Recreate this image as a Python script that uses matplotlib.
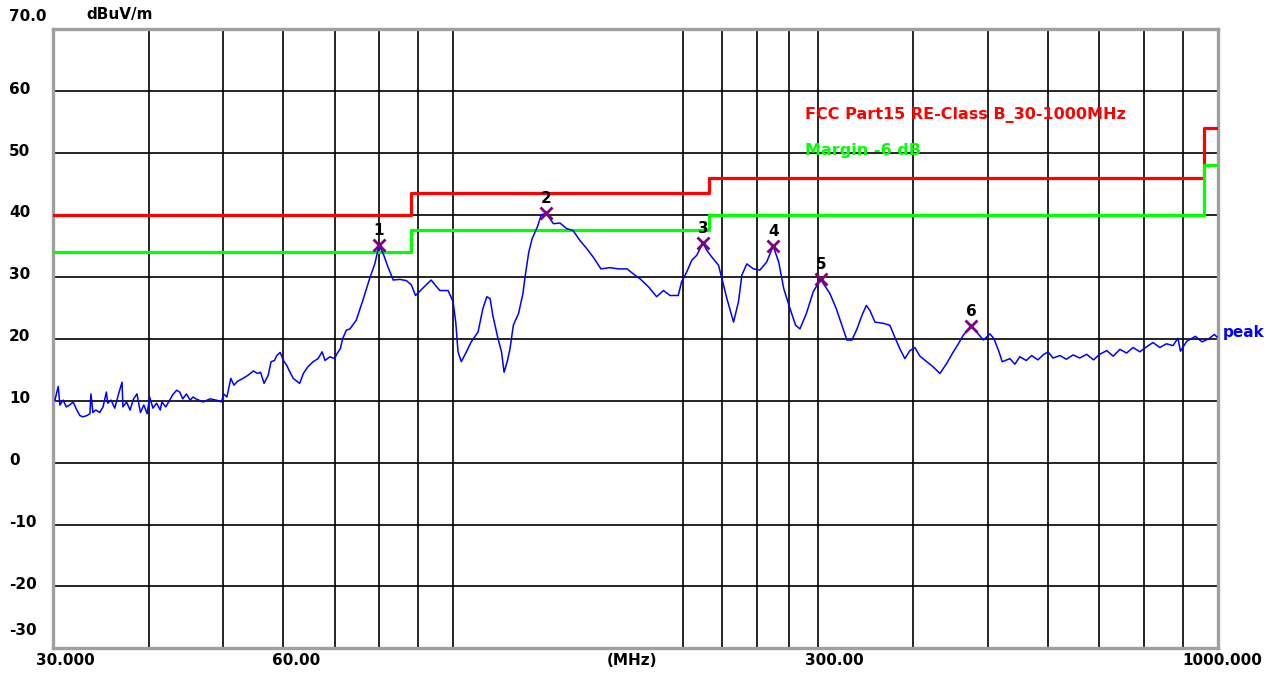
import matplotlib
matplotlib.use('Agg')
import matplotlib.pyplot as plt
from matplotlib.transforms import blended_transform_factory

# peak trace (MHz / dBuV/m)
trace_mhz = [
    30.15, 30.45, 30.6, 30.9, 31.2, 31.5, 31.85, 32.2, 32.5, 32.8,
    33.2, 33.5, 33.6, 33.8, 34.1, 34.5, 34.85, 35.2, 35.35, 35.7,
    36.1, 36.5, 36.9, 37.0, 37.4, 37.8, 38.2, 38.6, 39.0, 39.4,
    39.8, 40.1, 40.5, 40.95, 41.4, 41.6, 42.1, 42.6, 43.0, 43.5,
    43.9, 44.3, 44.8, 45.3, 45.7, 46.1, 47.1, 48.1, 49.0, 49.8,
    50.1, 50.6, 51.2, 51.7, 52.2, 53.1, 53.9, 54.8, 55.5, 56.0,
    56.6, 57.3, 57.8, 58.4, 58.8, 59.4, 60.0, 60.6, 61.2, 61.8,
    63.0, 63.7, 64.6, 65.6, 66.6, 67.4, 68.0, 69.0, 70.0, 70.5,
    71.2, 71.7, 72.5, 73.3, 74.7, 76.2, 77.9, 79.0, 80.0, 81.0,
    82.2, 83.5, 85.2, 86.9, 88.2, 89.3, 90.8, 93.6, 96.1, 98.5,
    100.0, 100.8, 101.5, 102.5, 104.1, 105.6, 107.8, 109.4, 110.7, 111.8,
    112.7, 114.5, 115.7, 116.6, 117.7, 118.7, 119.9, 121.8, 123.4, 124.3,
    125.6, 126.9, 128.9, 130.4, 132.3, 133.9, 135.3, 138.0, 140.8, 143.5,
    146.5, 149.5, 152.5, 156.1, 160.4, 164.5, 168.9, 172.0, 175.6, 180.1,
    184.6, 188.4, 192.2, 197.0, 199.0, 202.1, 205.2, 208.3, 212.2, 214.7,
    218.0, 222.4, 224.7, 228.1, 232.7, 236.2, 238.6, 242.2, 247.1, 251.9,
    257.1, 262.2, 266.6, 270.7, 275.8, 280.5, 284.2, 289.8, 295.8, 302.5,
    311.1, 317.0, 322.5, 327.4, 332.4, 337.5, 342.6, 347.1, 350.8, 356.3,
    365.3, 372.6, 378.1, 384.0, 389.8, 395.8, 401.7, 407.9, 416.4, 424.2,
    433.2, 442.0, 451.1, 458.0, 464.9, 475.8, 484.0, 493.8, 503.7, 509.9,
    517.6, 522.7, 534.9, 543, 551, 562, 571, 582, 591, 600,
    609, 622, 634, 647, 660, 674, 688, 701, 716, 730,
    745, 760, 775, 791, 807, 823, 840, 857, 874, 887,
    894, 911, 935, 954, 973, 990, 998,
]
trace_dbuv = [
    10.1, 12.3, 9.3, 10.1, 9.0, 9.3, 9.8, 8.5, 7.6, 7.4,
    7.6, 7.9, 11.1, 8.1, 8.5, 8.1, 9.0, 11.4, 9.6, 10.1,
    8.8, 11.0, 13.0, 9.0, 9.8, 8.5, 10.3, 11.1, 8.1, 9.3,
    7.9, 10.6, 8.8, 9.6, 8.5, 9.8, 9.0, 10.1, 11.0, 11.7,
    11.4, 10.3, 11.1, 10.1, 10.6, 10.3, 9.8, 10.3, 10.1, 9.8,
    11.1, 10.6, 13.6, 12.5, 13.1, 13.6, 14.1, 14.8, 14.4, 14.6,
    12.8, 14.1, 16.3, 16.5, 17.3, 17.8, 16.5, 15.7, 14.6, 13.6,
    12.8, 14.4, 15.5, 16.3, 16.8, 17.9, 16.5, 17.1, 16.8, 17.6,
    18.4, 20.0, 21.4, 21.6, 23.0, 26.2, 30.0, 32.1, 35.1, 33.8,
    31.6, 29.5, 29.6, 29.4, 28.7, 27.0, 27.9, 29.5, 27.8, 27.8,
    26.0, 22.7, 17.9, 16.3, 17.9, 19.5, 21.1, 24.9, 26.8, 26.5,
    23.8, 20.0, 17.9, 14.6, 16.3, 18.4, 22.2, 24.1, 27.3, 30.3,
    34.0, 36.2, 38.1, 40.0, 40.3, 39.4, 38.6, 38.7, 37.8, 37.5,
    35.9, 34.6, 33.2, 31.3, 31.5, 31.3, 31.3, 30.5, 29.7, 28.4,
    26.8, 27.8, 27.0, 27.0, 29.2, 30.8, 32.7, 33.5, 35.5, 34.3,
    33.2, 31.9, 29.7, 26.5, 22.7, 26.0, 30.3, 32.1, 31.3, 31.1,
    32.4, 35.0, 32.4, 28.1, 24.9, 22.2, 21.6, 24.1, 27.6, 29.6,
    27.3, 24.9, 22.2, 19.8, 19.8, 21.6, 23.8, 25.4, 24.6, 22.7,
    22.5, 22.2, 20.3, 18.4, 16.8, 18.1, 18.6, 17.2, 16.3, 15.5,
    14.4, 16.0, 17.9, 19.2, 20.6, 22.1, 21.1, 19.8, 20.8, 20.0,
    17.9, 16.3, 16.8, 15.9, 17.1, 16.5, 17.3, 16.6, 17.4, 17.9,
    16.9, 17.3, 16.7, 17.4, 16.9, 17.5, 16.6, 17.5, 18.1, 17.2,
    18.3, 17.7, 18.6, 17.9, 18.7, 19.4, 18.6, 19.2, 18.9, 20.1,
    18.0, 19.6, 20.4, 19.5, 20.0, 20.7, 20.3,
]

# FCC Part15 class B limit and the -6 dB margin
limit_mhz = [30, 88, 216, 960, 1000]
limit_dbuv = [40, 43.5, 46, 54, 54]
margin_db = 6

# marked peaks
marker_mhz = [80.0, 132.3, 212.2, 262.3, 302.6, 475.8]
marker_dbuv = [35.1, 40.3, 35.5, 35.0, 29.6, 22.1]
marker_ids = ['1', '2', '3', '4', '5', '6']

grid_mhz = [40, 50, 60, 70, 80, 90, 100, 200, 225, 250, 275,
            300, 400, 500, 600, 700, 800, 900]
y_ticks = [-30, -20, -10, 0, 10, 20, 30, 40, 50, 60, 70]
y_labels = ['-30', '-20', '-10', '0', '10', '20', '30', '40', '50', '60', '70.0']
x_label_mhz = [30, 60, 300, 1000]
x_labels = ['30.000', '60.00', '300.00', '1000.000']

plt.rcParams['font.family'] = 'DejaVu Sans'
plt.rcParams['font.weight'] = 'bold'

fig = plt.figure(figsize=(12.78, 6.74), dpi=100)
ax = fig.add_axes([0.0417, 0.0381, 0.9111, 0.9184])
ax.set_xscale('log')
ax.set_xlim(30, 1000)
ax.set_ylim(-30, 70)
ax.set_xticks(grid_mhz)
ax.set_xticks([], minor=True)
ax.set_yticks(y_ticks)
ax.tick_params(which='both', length=0, labelbottom=False, labelleft=False)
ax.grid(True, color='black', lw=1.2)
for s in ax.spines.values():
    s.set_color('#a0a0a0')
    s.set_linewidth(2.4)

ax.step(limit_mhz, limit_dbuv, where='post', color='#ff0000', lw=2.3, zorder=3)
ax.step(limit_mhz, [v - margin_db for v in limit_dbuv], where='post',
        color='#00ff00', lw=2.3, zorder=3)
ax.plot(trace_mhz, trace_dbuv, color='#0000ff', lw=1.1, zorder=4)
ax.plot(marker_mhz, marker_dbuv, 'x', color='#800080', ms=9, mew=2, zorder=5)
for f, v, t in zip(marker_mhz, marker_dbuv, marker_ids):
    ax.annotate(t, (f, v), xytext=(0, 10.5), textcoords='offset points',
                ha='center', va='center', fontsize=11)

# axis labels (drawn by hand like the EMI software does)
ytrans = blended_transform_factory(fig.transFigure, ax.transData)
for y, lbl in zip(y_ticks, y_labels):
    dy = 1.5
    if y == 70:
        dy = 9.4
    elif y == -30:
        dy = 13
    ax.annotate(lbl, (0.007, y), xycoords=ytrans, xytext=(0, dy),
                textcoords='offset points', ha='left', va='center', fontsize=11)

x_dx = [8.6, 9.0, 11.9, 3.6]
for f, lbl, dx in zip(x_label_mhz, x_labels, x_dx):
    ax.annotate(lbl, (f, -30), xytext=(dx, -8.6), textcoords='offset points',
                ha='center', va='center', fontsize=11, annotation_clip=False)
ax.annotate('(MHz)', (0.497, 0), xycoords='axes fraction', xytext=(0, -8.6),
            textcoords='offset points', ha='center', va='center', fontsize=11)

fig.text(0.0673, 0.9785, 'dBuV/m', ha='left', va='center', fontsize=11)
fig.text(0.630, 0.830, 'FCC Part15 RE-Class B_30-1000MHz', color='#ff0000',
         ha='left', va='center', fontsize=11.5)
fig.text(0.630, 0.776, 'Margin -6 dB', color='#00ff00',
         ha='left', va='center', fontsize=11.5)

ptrans = blended_transform_factory(ax.transAxes, ax.transData)
ax.annotate('peak', (1, 21.0), xycoords=ptrans, xytext=(3.6, 0),
            textcoords='offset points', ha='left', va='center',
            color='#0000ff', fontsize=11, annotation_clip=False)

fig.savefig('out.png', dpi=100)
